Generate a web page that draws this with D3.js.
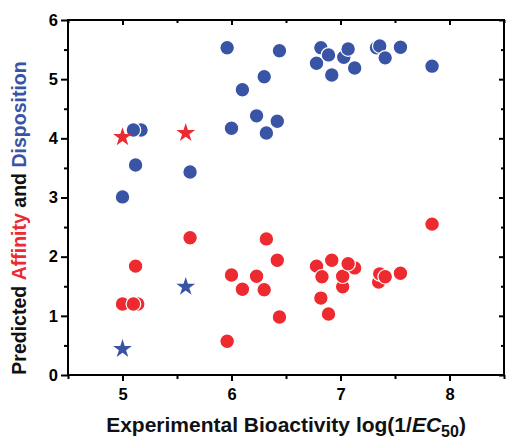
<!DOCTYPE html>
<html lang="en">
<head>
<meta charset="UTF-8">
<title>Predicted vs experimental</title>
<script src="https://d3js.org/d3.v7.min.js"></script>
<style>
body { margin: 0; background: #fff; }
svg text { font-family: "Liberation Sans", Arial, sans-serif; font-weight: bold; }
</style>
</head>
<body>
<svg width="506" height="440"></svg>
<script>
// affinity (red) circles: experimental x, predicted y
var affinityX = [5.00, 5.14, 5.10, 5.12, 5.62, 5.96, 6.00, 6.10, 6.23, 6.30, 6.32, 6.42, 6.44,
    6.78, 6.83, 6.82, 6.89, 6.92, 7.02, 7.02, 7.13, 7.07, 7.35, 7.36, 7.41, 7.55, 7.84];
var affinityY = [1.20, 1.20, 1.20, 1.84, 2.32, 0.57, 1.69, 1.45, 1.67, 1.44, 2.30, 1.94, 0.98,
    1.84, 1.66, 1.30, 1.03, 1.94, 1.49, 1.67, 1.81, 1.88, 1.57, 1.71, 1.66, 1.72, 2.55];
// disposition (blue) circles
var dispX = [5.00, 5.17, 5.10, 5.12, 5.62, 5.96, 6.00, 6.10, 6.23, 6.30, 6.32, 6.42, 6.44,
    6.78, 6.82, 7.03, 6.89, 7.07, 6.92, 7.13, 7.33, 7.36, 7.41, 7.55, 7.84];
var dispY = [3.01, 4.14, 4.14, 3.55, 3.43, 5.53, 4.17, 4.82, 4.38, 5.04, 4.09, 4.29, 5.48,
    5.27, 5.53, 5.37, 5.41, 5.51, 5.07, 5.19, 5.53, 5.56, 5.36, 5.54, 5.22];
// stars
var affStarX = [5.00, 5.58], affStarY = [4.02, 4.09];
var dispStarX = [5.00, 5.58], dispStarY = [0.44, 1.49];

var xTicks = [5, 6, 7, 8];
var yTicks = [0, 1, 2, 3, 4, 5, 6];

var red = '#ec2a2f', blue = '#3a54a5';

var svg = d3.select('svg');
var x = d3.scaleLinear().domain([4.5, 8.5]).range([68, 504]);
var y = d3.scaleLinear().domain([0, 6]).range([375, 20]);

function minor(dom) {
    var out = [];
    for (var v = dom[0]; v <= dom[1] + 1e-9; v += 0.5) {
        if (Math.abs(v - Math.round(v)) > 0.1) out.push(v);
    }
    return out;
}

// minor ticks
svg.append('g').attr('transform', 'translate(0,375)')
    .call(d3.axisBottom(x).tickValues(minor([4.5, 8.5])).tickSize(4).tickFormat(''));
svg.append('g').attr('transform', 'translate(0,20)')
    .call(d3.axisBottom(x).tickValues(minor([4.5, 8.5])).tickSize(3).tickFormat(''));
svg.append('g').attr('transform', 'translate(68,0)')
    .call(d3.axisLeft(y).tickValues(minor([0, 6])).tickSize(4).tickFormat(''));
svg.append('g').attr('transform', 'translate(504,0)')
    .call(d3.axisLeft(y).tickValues(minor([0, 6])).tickSize(3).tickFormat(''));

// major ticks
svg.append('g').attr('transform', 'translate(0,375)')
    .call(d3.axisBottom(x).tickValues(xTicks).tickSize(6).tickPadding(7).tickFormat(d3.format('d')));
svg.append('g').attr('transform', 'translate(0,20)')
    .call(d3.axisBottom(x).tickValues(xTicks).tickSize(5).tickFormat(''));
svg.append('g').attr('transform', 'translate(68,0)')
    .call(d3.axisLeft(y).tickValues(yTicks).tickSize(7).tickPadding(3).tickFormat(d3.format('d')));
svg.append('g').attr('transform', 'translate(504,0)')
    .call(d3.axisLeft(y).tickValues(yTicks).tickSize(5).tickFormat(''));

svg.selectAll('.domain').remove();
svg.selectAll('.tick line').attr('stroke', '#000').attr('stroke-width', 2);
svg.selectAll('.tick text').attr('fill', '#000').attr('font-size', 16.5)
    .style('font-family', '"Liberation Sans", Arial, sans-serif').style('font-weight', 'bold');

svg.append('rect').attr('x', 68).attr('y', 20).attr('width', 436).attr('height', 355)
    .attr('fill', 'none').attr('stroke', '#000').attr('stroke-width', 2);

// points
var pts = svg.append('g');
function circles(xs, ys, col) {
    pts.selectAll(null).data(d3.range(xs.length)).enter().append('circle')
        .attr('cx', function(i) { return x(xs[i]); })
        .attr('cy', function(i) { return y(ys[i]); })
        .attr('r', 7.3)
        .attr('fill', col)
        .attr('stroke', '#fff').attr('stroke-width', 1.2);
}
function stars(xs, ys, col) {
    pts.selectAll(null).data(d3.range(xs.length)).enter().append('path')
        .attr('d', d3.symbol().type(d3.symbolStar).size(110))
        .attr('transform', function(i) { return 'translate(' + x(xs[i]) + ',' + y(ys[i]) + ')'; })
        .attr('fill', col);
}
circles(dispX, dispY, blue);
circles(affinityX, affinityY, red);
stars(affStarX, affStarY, red);
stars(dispStarX, dispStarY, blue);

// axis titles
var xt = svg.append('text').attr('x', 286).attr('y', 432).attr('text-anchor', 'middle')
    .attr('font-size', 21).attr('fill', '#111');
xt.append('tspan').text('Experimental Bioactivity log(1/');
xt.append('tspan').attr('font-style', 'italic').text('EC');
xt.append('tspan').attr('font-size', 16).attr('dy', 5).text('50');
xt.append('tspan').attr('dy', -5).text(')');

var yt = svg.append('text').attr('transform', 'translate(26,218) rotate(-90) scale(0.93,1)')
    .attr('text-anchor', 'middle').attr('font-size', 21).attr('fill', '#111');
yt.append('tspan').text('Predicted ');
yt.append('tspan').attr('fill', red).text('Affinity');
yt.append('tspan').text(' and ');
yt.append('tspan').attr('fill', blue).text('Disposition');
</script>
</body>
</html>
